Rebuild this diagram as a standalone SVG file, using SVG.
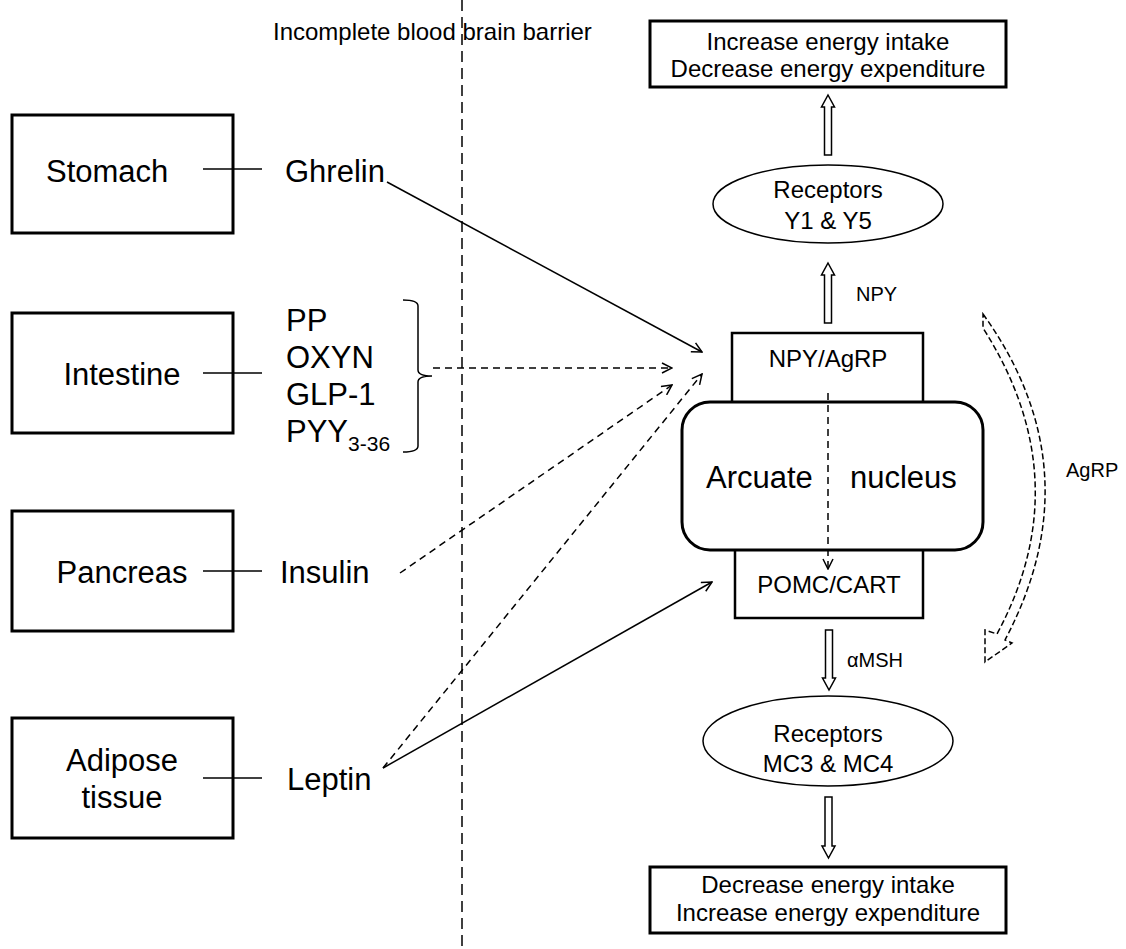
<svg xmlns="http://www.w3.org/2000/svg" width="1126" height="949" viewBox="0 0 1126 949">
<style>
text{font-family:"Liberation Sans",Arial,sans-serif;fill:#000}
.big{font-size:31px}
.mid{font-size:24px}
.sm{font-size:20px}
.box{fill:#fff;stroke:#000;stroke-width:3}
.thin{fill:none;stroke:#000;stroke-width:1.5}
.dash{fill:none;stroke:#000;stroke-width:1.5;stroke-dasharray:7 5}
.blk{fill:#fff;stroke:#000;stroke-width:1.5}
</style>
<defs>
<marker id="ah" viewBox="0 0 12 12" refX="11" refY="6" markerWidth="12" markerHeight="12" markerUnits="userSpaceOnUse" orient="auto">
<path d="M1,1 L11,6 L1,11" fill="none" stroke="#000" stroke-width="1.5"/>
</marker>
</defs>
<rect width="1126" height="949" fill="#fff"/>

<g id="barrier">
<line x1="462" y1="0" x2="462" y2="949" stroke="#000" stroke-width="1.5" stroke-dasharray="11 6"/>
<text x="273" y="40" style="font-size:24px">Incomplete blood brain barrier</text>
</g>

<g id="stomach">
<rect class="box" x="12" y="115" width="221" height="118"/>
<text class="big" x="46" y="182">Stomach</text>
</g>
<g id="intestine">
<rect class="box" x="12" y="313" width="221" height="120"/>
<text class="big" x="122" y="385" text-anchor="middle">Intestine</text>
</g>
<g id="pancreas">
<rect class="box" x="12" y="511" width="221" height="120"/>
<text class="big" x="122" y="583" text-anchor="middle">Pancreas</text>
</g>
<g id="adipose">
<rect class="box" x="12" y="718" width="221" height="120"/>
<text class="big" x="122" y="771" text-anchor="middle">Adipose</text>
<text class="big" x="122" y="808" text-anchor="middle">tissue</text>
</g>

<g id="ghrelin"><text class="big" x="285" y="182">Ghrelin</text></g>
<g id="gut-hormones">
<text class="big" x="286" y="331">PP</text>
<text class="big" x="286" y="368">OXYN</text>
<text class="big" x="286" y="405">GLP-1</text>
<text class="big" x="286" y="442">PYY<tspan style="font-size:21px" dy="9">3-36</tspan></text>
<path class="thin" d="M403,300 Q418,300 418,306 V370 Q418,376 432,376 Q418,376 418,382 V446 Q418,452 403,452"/>
</g>
<g id="insulin"><text class="big" x="280" y="583">Insulin</text></g>
<g id="leptin"><text class="big" x="287" y="790">Leptin</text></g>

<g id="top-box">
<rect x="650" y="21" width="356" height="66" fill="#fff" stroke="#000" stroke-width="3"/>
<text class="mid" x="828" y="50" text-anchor="middle">Increase energy intake</text>
<text class="mid" x="828" y="77" text-anchor="middle">Decrease energy expenditure</text>
</g>
<g id="receptors-y">
<ellipse cx="828" cy="204" rx="115" ry="39" class="thin"/>
<text class="mid" x="828" y="198" text-anchor="middle">Receptors</text>
<text class="mid" x="828" y="229" text-anchor="middle">Y1 &amp; Y5</text>
</g>
<g id="npy-agrp">
<rect x="732" y="333" width="191" height="80" fill="#fff" stroke="#000" stroke-width="2.5"/>
<text class="mid" x="828" y="367" text-anchor="middle">NPY/AgRP</text>
</g>
<g id="pomc-cart">
<rect x="735" y="540" width="188" height="78" fill="#fff" stroke="#000" stroke-width="2.5"/>
<text class="mid" x="829" y="593" text-anchor="middle">POMC/CART</text>
</g>
<g id="arcuate">
<rect x="682" y="402" width="301" height="148" rx="28" ry="28" fill="#fff" stroke="#000" stroke-width="3"/>
<text class="big" x="706" y="488">Arcuate</text>
<text class="big" x="850" y="488">nucleus</text>
</g>
<g id="receptors-mc">
<ellipse cx="828" cy="741" rx="125" ry="45" class="thin"/>
<text class="mid" x="828" y="742" text-anchor="middle">Receptors</text>
<text class="mid" x="828" y="772" text-anchor="middle">MC3 &amp; MC4</text>
</g>
<g id="bottom-box">
<rect x="650" y="867" width="356" height="66" fill="#fff" stroke="#000" stroke-width="3"/>
<text class="mid" x="828" y="893" text-anchor="middle">Decrease energy intake</text>
<text class="mid" x="828" y="921" text-anchor="middle">Increase energy expenditure</text>
</g>

<g id="connectors">
<line class="thin" x1="203" y1="169" x2="262" y2="169"/>
<line class="thin" x1="203" y1="373" x2="262" y2="373"/>
<line class="thin" x1="203" y1="571" x2="262" y2="571"/>
<line class="thin" x1="203" y1="778" x2="262" y2="778"/>
<line class="thin" x1="387" y1="182" x2="702" y2="352" marker-end="url(#ah)"/>
<line class="dash" x1="433" y1="368" x2="672" y2="368" marker-end="url(#ah)"/>
<line class="dash" x1="400" y1="573" x2="672" y2="385" marker-end="url(#ah)"/>
<line class="dash" x1="383" y1="768" x2="702" y2="374" marker-end="url(#ah)"/>
<line class="thin" x1="383" y1="768" x2="712" y2="582" marker-end="url(#ah)"/>
<line class="dash" x1="828" y1="393" x2="828" y2="569" marker-end="url(#ah)"/>
<polygon class="blk" points="828,95 834.5,107 831.5,107 831.5,155 824.5,155 824.5,107 821.5,107"/>
<polygon class="blk" points="828,263 834.5,275 831.5,275 831.5,323 824.5,323 824.5,275 821.5,275"/>
<text class="sm" x="856" y="301">NPY</text>
<polygon class="blk" points="825.5,630 832.5,630 832.5,678 835.5,678 829,690 822.5,678 825.5,678"/>
<text class="sm" x="847" y="667">αMSH</text>
<polygon class="blk" points="825,797 832,797 832,846 835,846 828.5,858 822,846 825,846"/>
<path d="M983,314 Q1095,470 1005,640 L1012,643 L985,662 L985,630 L997,634 Q1080,480 983,328 Z" fill="none" stroke="#000" stroke-width="1.5" stroke-dasharray="6 3"/>
<text class="sm" x="1066" y="477">AgRP</text>
</g>
</svg>
